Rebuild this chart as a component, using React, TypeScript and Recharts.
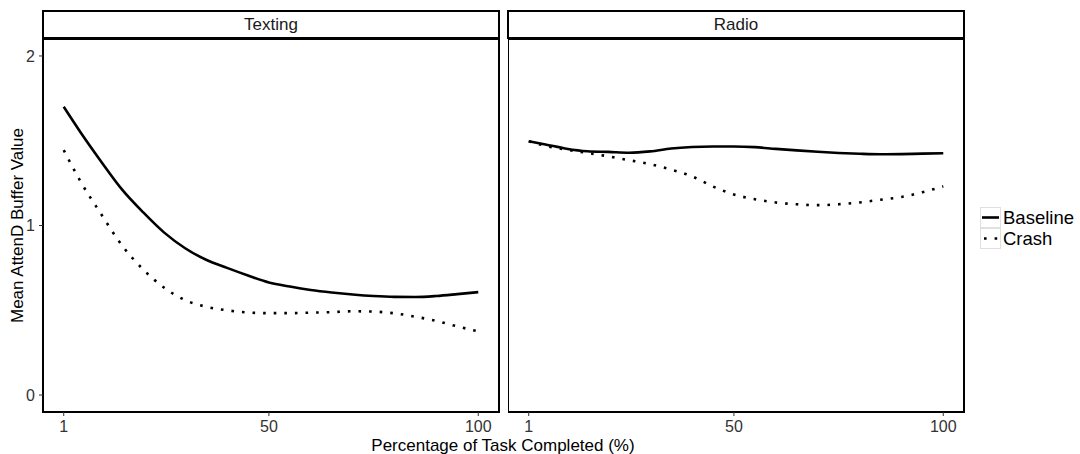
import { LineChart, Line, XAxis, YAxis, ReferenceArea } from 'recharts'

// percentage of task completed (x positions of the smoothed curves)
const pct = [1, 5, 10, 15, 20, 25, 30, 35, 40, 45, 50, 55, 60, 65, 70, 75, 80, 85, 90, 95, 100]

const textingBaseline = [
  1.7, 1.55, 1.375, 1.21, 1.077, 0.958, 0.866, 0.798, 0.75, 0.705, 0.664,
  0.64, 0.62, 0.605, 0.593, 0.584, 0.579, 0.578, 0.584, 0.595, 0.607,
]
const textingCrash = [
  1.445, 1.26, 1.065, 0.88, 0.74, 0.633, 0.56, 0.521, 0.5, 0.487, 0.483,
  0.483, 0.486, 0.489, 0.494, 0.492, 0.482, 0.462, 0.437, 0.405, 0.375,
]
const radioBaseline = [
  1.497, 1.478, 1.453, 1.438, 1.434, 1.429, 1.437, 1.454, 1.463, 1.466, 1.466,
  1.462, 1.452, 1.443, 1.435, 1.428, 1.423, 1.42, 1.421, 1.424, 1.426,
]
const radioCrash = [
  1.497, 1.47, 1.447, 1.428, 1.408, 1.385, 1.362, 1.33, 1.29, 1.23, 1.183,
  1.155, 1.136, 1.125, 1.12, 1.125, 1.136, 1.152, 1.168, 1.196, 1.231,
]

const xTicks = [1, 50, 100]
const yTicks = [0, 1, 2]
const seriesNames = ['Baseline', 'Crash']

const FONT = '"Liberation Sans", Arial, sans-serif'
const X_DOMAIN: [number, number] = [-3.95, 104.95]
const Y_DOMAIN: [number, number] = [-0.1, 2.1]
const LINE_W = 2.6
const DOTS = '2.6 8'

function rows(base: number[], crash: number[]) {
  return pct.map((x, i) => ({ x, baseline: base[i], crash: crash[i] }))
}

function Panel({
  title,
  base,
  crash,
  left,
  showY,
}: {
  title: string
  base: number[]
  crash: number[]
  left: number
  showY: boolean
}) {
  const yw = showY ? 43 : 0
  const plotW = 456
  return (
    <div style={{ position: 'absolute', left, top: 0 }}>
      <LineChart
        width={yw + plotW + 21}
        height={454}
        data={rows(base, crash)}
        margin={{ top: 39, right: 21, bottom: 12, left: 0 }}
      >
        <XAxis
          dataKey="x"
          type="number"
          domain={X_DOMAIN}
          ticks={xTicks}
          axisLine={false}
          tickLine={{ stroke: '#333' }}
          tickSize={4}
          tickMargin={5}
          height={30}
          tick={{ fill: '#333', fontSize: 16, fontFamily: FONT }}
        />
        <YAxis
          hide={!showY}
          type="number"
          domain={Y_DOMAIN}
          ticks={yTicks}
          width={yw}
          axisLine={false}
          tickLine={{ stroke: '#333' }}
          tickSize={4}
          tickMargin={4}
          tick={{ fill: '#333', fontSize: 16, fontFamily: FONT }}
          label={
            showY
              ? {
                  value: 'Mean AttenD Buffer Value',
                  angle: -90,
                  position: 'insideLeft',
                  dx: 12,
                  style: { textAnchor: 'middle', fill: '#000', fontSize: 17, fontFamily: FONT },
                }
              : undefined
          }
        />
        <Line
          dataKey="baseline"
          name={seriesNames[0]}
          type="monotone"
          stroke="#000"
          strokeWidth={LINE_W}
          dot={false}
          activeDot={false}
          isAnimationActive={false}
        />
        <Line
          dataKey="crash"
          name={seriesNames[1]}
          type="monotone"
          stroke="#000"
          strokeWidth={LINE_W}
          strokeDasharray={DOTS}
          dot={false}
          activeDot={false}
          isAnimationActive={false}
        />
        <ReferenceArea
          x1={X_DOMAIN[0]}
          x2={X_DOMAIN[1]}
          y1={Y_DOMAIN[0]}
          y2={Y_DOMAIN[1]}
          fill="none"
          stroke="#000"
          strokeWidth={2}
          ifOverflow="visible"
        />
      </LineChart>
      {/* facet strip */}
      <div
        style={{
          position: 'absolute',
          left: yw - 1,
          top: 10,
          width: plotW + 2,
          height: 29,
          boxSizing: 'border-box',
          border: '2px solid #000',
          background: '#fff',
          fontFamily: FONT,
          fontSize: 17,
          color: '#1a1a1a',
          textAlign: 'center',
          lineHeight: '25px',
        }}
      >
        {title}
      </div>
    </div>
  )
}

function LegendBox() {
  return (
    <div style={{ position: 'absolute', left: 980, top: 207, fontFamily: FONT, fontSize: 18.5 }}>
      {seriesNames.map((name, i) => (
        <div key={name} style={{ display: 'flex', alignItems: 'center', height: 21 }}>
          <svg width={21} height={21} style={{ display: 'block' }}>
            <rect x={0.5} y={0.5} width={20} height={20} fill="#fff" stroke="#e0e0e0" />
            <line
              x1={2}
              x2={19}
              y1={10.5}
              y2={10.5}
              stroke="#000"
              strokeWidth={LINE_W}
              strokeDasharray={i === 1 ? DOTS : undefined}
              strokeDashoffset={i === 1 ? -2 : undefined}
            />
          </svg>
          <span style={{ marginLeft: 2 }}>{name}</span>
        </div>
      ))}
    </div>
  )
}

export default function App() {
  return (
    <div
      style={{
        position: 'absolute',
        left: 0,
        top: 0,
        width: 1080,
        height: 454,
        background: '#fff',
        overflow: 'hidden',
      }}
    >
      <Panel title="Texting" base={textingBaseline} crash={textingCrash} left={0} showY />
      <Panel title="Radio" base={radioBaseline} crash={radioCrash} left={508} showY={false} />
      <LegendBox />
      <div
        style={{
          position: 'absolute',
          left: 0,
          top: 437,
          width: 1006,
          textAlign: 'center',
          fontFamily: FONT,
          fontSize: 17,
          lineHeight: '17px',
          color: '#000',
        }}
      >
        Percentage of Task Completed (%)
      </div>
    </div>
  )
}
